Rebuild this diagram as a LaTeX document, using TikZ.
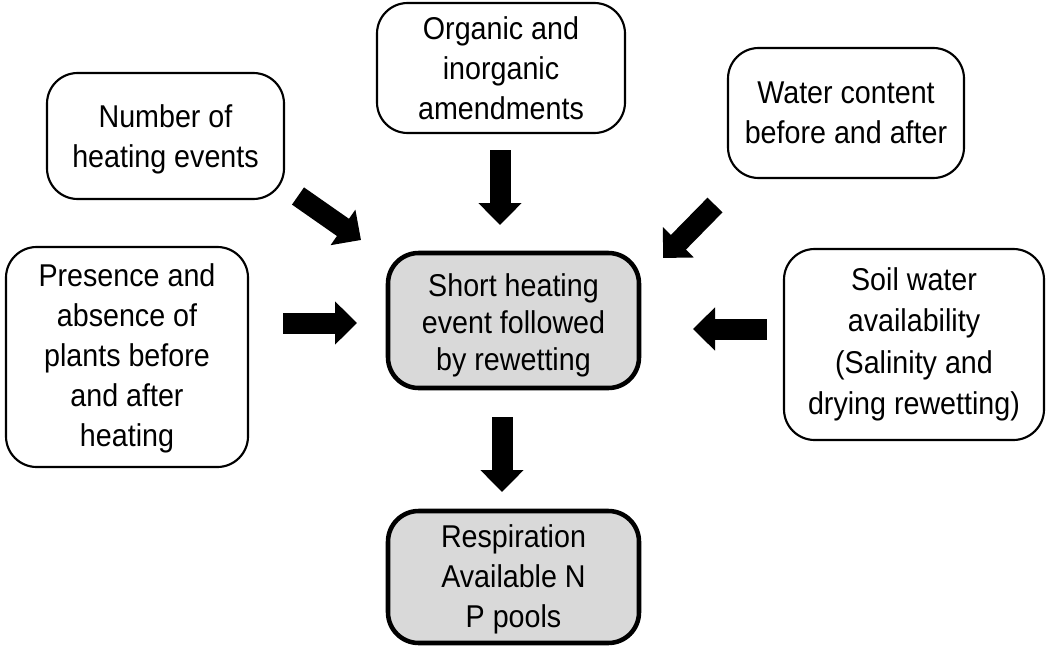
\documentclass[tikz,border=0pt]{standalone}
\usepackage{fontspec}
\usepackage{graphicx}
\setmainfont{Liberation Sans}
\usetikzlibrary{arrows.meta}
\definecolor{boxgray}{RGB}{217,217,217}
\newcommand{\vs}[1]{\scalebox{1}[1.1]{#1}}
\begin{document}
\begin{tikzpicture}[x=0.75pt,y=-0.75pt,
  factorbox/.style={draw=black, line width=1.6pt, rounded corners=23pt, fill=white,
    align=center, inner sep=0pt, font=\fontsize{21.5}{30}\selectfont},
  mainbox/.style={factorbox, line width=3.4pt, fill=boxgray},
  fatarrow/.style={line width=15.75pt, -{Triangle[width=31.5pt,length=16.5pt]}}]
\useasboundingbox (0,0) rectangle (1049,646);

\node[factorbox, minimum width=177.75pt, minimum height=94.5pt] (num) at (165.5,136)
  {\rule{0pt}{22.5pt}\vs{Number of}\\\vs{heating events}};
\node[factorbox, minimum width=186pt, minimum height=97.5pt] (org) at (501,68)
  {\vs{Organic and}\\\vs{inorganic}\\\vs{amendments}};
\node[factorbox, minimum width=177pt, minimum height=97.5pt] (wat) at (846,113)
  {\vs{Water content}\\\vs{before and after}};
\node[factorbox, minimum width=181.5pt, minimum height=165pt] (pres) at (127,357)
  {\rule{0pt}{18.5pt}\vs{Presence and}\\\vs{absence of}\\\vs{plants before}\\\vs{and after}\\\vs{heating}};
\node[factorbox, minimum width=195pt, minimum height=143.25pt, font=\fontsize{21.5}{31}\selectfont] (soil) at (914,344.5)
  {\vs{Soil water}\\\vs{availability}\\\vs{(Salinity and}\\\vs{drying rewetting)}};
\node[mainbox, minimum width=188.25pt, minimum height=101.25pt, font=\fontsize{21.5}{27.75}\selectfont] (ctr) at (513.5,320.5)
  {\rule{0pt}{24.5pt}\vs{Short heating}\\\vs{event followed}\\\vs{by rewetting}};
\node[mainbox, minimum width=188.25pt, minimum height=99pt] (resp) at (513.5,577)
  {\rule{0pt}{21pt}\vs{Respiration}\\\vs{Available N}\\\vs{P pools}};

\coordinate (orgA) at (500,150);   \coordinate (orgB) at (500,225);
\coordinate (numA) at (298,196);   \coordinate (numB) at (361,240);
\coordinate (watA) at (715,205);   \coordinate (watB) at (663,258);
\coordinate (presA) at (283,323);  \coordinate (presB) at (357,323);
\coordinate (soilA) at (767,329);  \coordinate (soilB) at (693,329);
\coordinate (ctrA) at (502,417);   \coordinate (ctrB) at (502,492);

\draw[fatarrow] (orgA) -- (orgB);
\draw[fatarrow] (numA) -- (numB);
\draw[fatarrow] (watA) -- (watB);
\draw[fatarrow] (presA) -- (presB);
\draw[fatarrow] (soilA) -- (soilB);
\draw[fatarrow] (ctrA) -- (ctrB);
\end{tikzpicture}
\end{document}
